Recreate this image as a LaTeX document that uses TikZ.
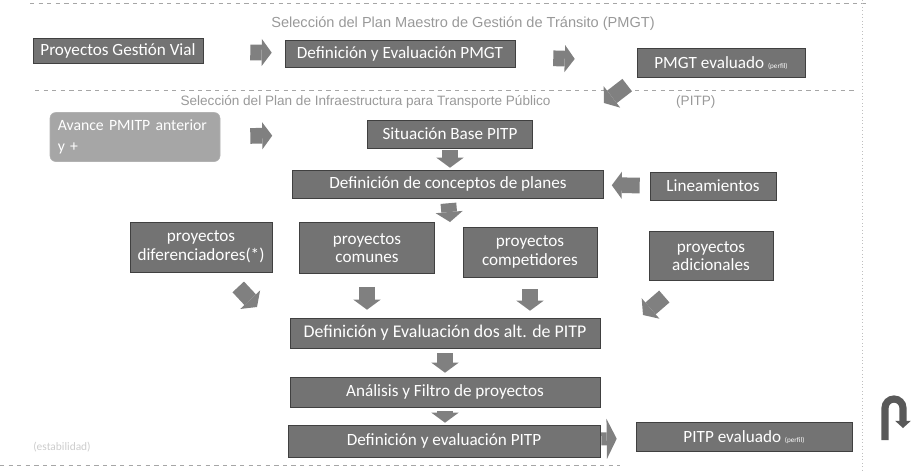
\documentclass[tikz,border=0pt]{standalone}
\usepackage{fontspec}
\setmainfont{Carlito}
\newfontfamily\titlefont{Liberation Sans}
\usetikzlibrary{arrows.meta}

\begin{document}
\begin{tikzpicture}[x=0.7pt, y=-0.7pt]
 \tikzstyle{box}=[draw=black!75, fill=black!55, text=white, inner sep=1pt, font=\fontsize{12}{13}\selectfont]
 \tikzstyle{softbox}=[draw=black!30, fill=black!35, text=white, rounded corners=4pt, inner sep=3pt, align=left, font=\fontsize{11}{15}\selectfont]
 \tikzstyle{wh}=[minimum width=#1*0.7pt]
 \tikzstyle{ht}=[minimum height=#1*0.7pt]
 \tikzstyle{title}=[text=black!40, font=\titlefont\fontsize{9.5}{10}\selectfont]
 \tikzstyle{sepline}=[draw=black!35, dashed, thin]
 \tikzstyle{blk}=[line width=11pt, draw=black!50, -{Triangle[length=7pt, width=19pt, line width=0pt]}]
 \tikzstyle{blktall}=[line width=9pt, draw=black!50, -{Triangle[length=7pt, width=28pt, line width=0pt]}]
 \useasboundingbox (0,0) rectangle (914,471);

% separators
\draw[sepline] (30,3) -- (870,3);
\draw[sepline] (35,90) -- (855,90);
\draw[sepline] (0,465) -- (620,465);
\draw[draw=black!25, dotted] (862,0) -- (862,471);

% PMGT
\node[title, font=\titlefont\fontsize{10.2}{11}\selectfont] (ttl1) at (463,24) {Selección del Plan Maestro de Gestión de Tránsito (PMGT)};
\node[box, wh=170, ht=25] (pgv)    at (118,51) {Proyectos Gestión Vial};
\node[box, wh=230, ht=27] (defg)   at (400,54) {Definición y Evaluación PMGT};
\node[box, wh=168, ht=29] (pmgtev) at (721,63) {PMGT evaluado {\tiny(perfil)}};

% PITP
\node[title] (ttl2) at (448,102) {Selección del Plan de Infraestructura para Transporte Público\hspace{88pt}(PITP)};
\node[softbox, wh=170, ht=49, text width=108pt] (avance) at (135,137) {Avance PMITP anterior\\y +};
\node[box, wh=165, ht=28] (sit)  at (450,134) {Situación Base PITP};
\node[box, wh=311, ht=28] (conc) at (448,184) {Definición de conceptos de planes};
\node[box, wh=126, ht=28] (lin)  at (713,186) {Lineamientos};

\node[box, wh=142, ht=50, align=center] (dif)  at (201,247) {proyectos\\diferenciadores(*)};
\node[box, wh=135, ht=51, align=center] (com)  at (367,248) {proyectos\\comunes};
\node[box, wh=134, ht=50, align=center] (comp) at (530,252) {proyectos\\competidores};
\node[box, wh=124, ht=49, align=center] (adic) at (711,256) {proyectos\\adicionales};

\node[box, wh=310, ht=30, font=\fontsize{12.5}{13}\selectfont] (dosalt) at (445,333) {Definición y Evaluación dos alt. de PITP};
\node[box, wh=310, ht=30] (anal)   at (445,392) {Análisis y Filtro de proyectos};
\node[box, wh=312, ht=32] (defp)   at (444,441) {Definición y evaluación PITP};
\node[box, wh=216, ht=29] (pitpev) at (744,437) {PITP evaluado {\tiny(perfil)}};

\node[text=black!20, font=\fontsize{8}{9}\selectfont] (estab) at (62,447) {(estabilidad)};

\coordinate (t0) at (604,103);
\coordinate (t1) at (450,222);
\coordinate (t2) at (257,307);
\coordinate (t3) at (643,315);

\draw[blk, shorten <=47*0.7pt, shorten >=13*0.7pt] (pgv) -- (defg);
\draw[blk, shorten <=38*0.7pt, shorten >=62*0.7pt] (defg) -- (pmgtev);
\draw[blk, shorten <=12*0.7pt] (pmgtev.south west) -- (t0);
\draw[blk, shorten <=30*0.7pt, shorten >=95*0.7pt] (avance) -- (sit);
\draw[blk, shorten <=2*0.7pt, shorten >=2*0.7pt] (sit.south) -- (sit.south |- conc.north);
\draw[blk, shorten <=10*0.7pt, shorten >=8*0.7pt] (lin) -- (conc);
\draw[blk, shorten <=5*0.7pt] (conc.south) -- (t1);
\draw[blk, shorten <=20*0.7pt] (dif) -- (t2);
\draw[blk, shorten <=13*0.7pt, shorten >=8*0.7pt] (com.south) -- (com.south |- dosalt.north);
\draw[blk, shorten <=12*0.7pt, shorten >=7*0.7pt] (comp.south) -- (comp.south |- dosalt.north);
\draw[blk, shorten <=24*0.7pt] (adic) -- (t3);
\draw[blk, shorten <=5*0.7pt, shorten >=4*0.7pt] (dosalt.south) -- (dosalt.south |- anal.north);
\draw[blk, shorten <=4*0.7pt, shorten >=2*0.7pt] (anal.south) -- (anal.south |- defp.north);
\draw[blktall, shorten <=1*0.7pt, shorten >=19*0.7pt] (defp) -- (pitpev);

% vuelta
\draw[line width=5pt, draw=black!65, -{Triangle[length=5pt, width=11pt, line width=0pt]}] (885,440) -- (885,408) arc (180:360:9) -- (903,428);
\end{tikzpicture}
\end{document}
